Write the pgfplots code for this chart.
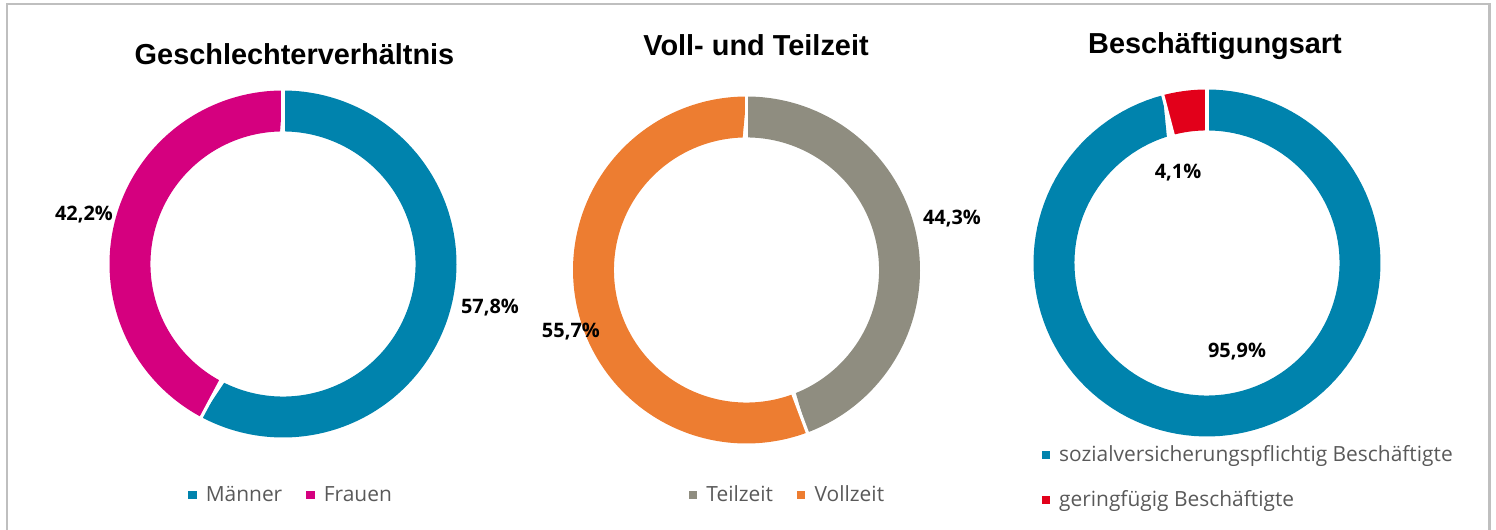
\documentclass[border=0pt]{standalone}
\usepackage{fontspec}
\setmainfont{Open Sans}
\newfontfamily\titlefont{Liberation Sans}
\usepackage{pgfplots}
\pgfplotsset{compat=1.18}
\definecolor{cblue}{HTML}{0083AD}
\definecolor{cpink}{HTML}{D5007F}
\definecolor{cgray}{HTML}{8F8D80}
\definecolor{corange}{HTML}{ED7D31}
\definecolor{cred}{HTML}{E2001A}
\definecolor{framecol}{HTML}{BFBFBF}
\definecolor{legtext}{HTML}{595959}

% #1 cumulative start (%), #2 value (%), #3 colour
\newcommand{\ringseg}[3]{%
  \addplot[fill=#3, draw=none, domain=0:2, samples=241, variable=\t]
  ({(\t<1.001) ? cos(90-3.6*(#1+#2*\t)) : 0.764*cos(90-3.6*(#1+#2*(2-\t)))},
   {(\t<1.001) ? sin(90-3.6*(#1+#2*\t)) : 0.764*sin(90-3.6*(#1+#2*(2-\t)))});
}
% white separator at cumulative percentage #1
\newcommand{\ringsep}[1]{%
  \draw[white, line width=1.6bp]
    (axis cs:{0.70*cos(90-3.6*#1)},{0.70*sin(90-3.6*#1)}) --
    (axis cs:{1.05*cos(90-3.6*#1)},{1.05*sin(90-3.6*#1)});
}
\pgfplotsset{
  legend image code/.code={\fill[#1] (0bp,-2.1bp) rectangle (4.2bp,2.1bp); \path (6.8bp,0bp);},
  donut/.style={
    x=86.75bp, y=86.75bp, xmin=-1, xmax=1, ymin=-1, ymax=1,
    hide axis, clip=false, anchor=center,
    legend style={draw=none, fill=none, inner sep=0pt,
      font=\fontsize{10.5}{12.6}\selectfont\color{legtext},
      nodes={inner sep=2bp},
      /tikz/every even column/.append style={column sep=10bp}},
    legend cell align=left,
  },
}
\newcommand{\pct}{\bfseries\fontsize{10}{12}\selectfont}

\begin{document}
\begin{tikzpicture}
\useasboundingbox (0,0) rectangle (748bp,265bp);
% frame
\draw[framecol, line width=1.2bp] (3.5bp,-5bp) -- (3.5bp,263bp) -- (744.75bp,263bp) -- (744.75bp,-5bp);

% titles
\node[anchor=base, font=\titlefont\bfseries\fontsize{14.5}{17}\selectfont] at (147.25bp,232.5bp) {Geschlechterverhältnis};
\node[anchor=base, font=\titlefont\bfseries\fontsize{14.5}{17}\selectfont] at (378bp,237bp) {Voll- und Teilzeit};
\node[anchor=base, font=\titlefont\bfseries\fontsize{14.5}{17}\selectfont] at (607.5bp,238bp) {Beschäftigungsart};

% chart 1
\begin{axis}[donut, at={(141.5bp,133bp)},
  legend columns=2, legend style={at={(0.526,-0.166)}, anchor=center}]
  \ringseg{0}{57.8}{cblue}
  \addlegendentry{Männer}
  \ringseg{57.8}{42.2}{cpink}
  \addlegendentry{Frauen}
  \ringsep{0}
  \ringsep{57.8}
  \node[font=\pct] at (axis cs:1.193,-0.254) {57,8\%};
  \node[font=\pct] at (axis cs:-1.147,0.282) {42,2\%};
\end{axis}

% chart 2
\begin{axis}[donut, at={(373.25bp,130bp)},
  legend columns=2, legend style={at={(0.621,-0.148)}, anchor=center}]
  \ringseg{0}{44.3}{cgray}
  \addlegendentry{Teilzeit}
  \ringseg{44.3}{55.7}{corange}
  \addlegendentry{Vollzeit}
  \ringsep{0}
  \ringsep{44.3}
  \node[font=\pct] at (axis cs:1.184,0.294) {44,3\%};
  \node[font=\pct] at (axis cs:-1.012,-0.352) {55,7\%};
\end{axis}

% chart 3
\begin{axis}[donut, at={(603.5bp,133.5bp)},
  legend columns=1, legend style={at={(0.022,-0.118)}, anchor=west, row sep=9bp}]
  \ringseg{0}{95.9}{cblue}
  \addlegendentry{sozialversicherungspflichtig Beschäftigte}
  \ringseg{95.9}{4.1}{cred}
  \addlegendentry{geringfügig Beschäftigte}
  \ringsep{0}
  \ringsep{95.9}
  \node[font=\pct] at (axis cs:-0.167,0.524) {4,1\%};
  \node[font=\pct] at (axis cs:0.173,-0.513) {95,9\%};
\end{axis}
\end{tikzpicture}
\end{document}
